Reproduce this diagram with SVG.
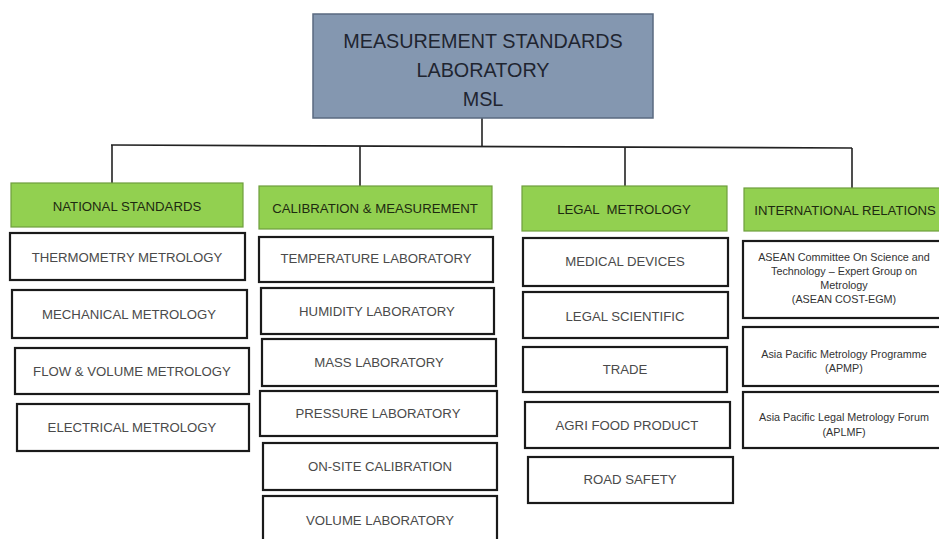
<svg xmlns="http://www.w3.org/2000/svg" width="939" height="539" viewBox="0 0 939 539">
<style>
.top{fill:#8497b0;stroke:#5a6a80;stroke-width:1.5}
.hdr{fill:#92d050;stroke:#6e9e3c;stroke-width:1.2}
.box{fill:#ffffff;stroke:#1a1a1a;stroke-width:2.2}
.t{font-family:"Liberation Sans",Arial,sans-serif;text-anchor:middle;dominant-baseline:central}
.tt{font-size:19.8px;fill:#1f2530}
.ht{font-size:13.2px;fill:#1e2a10;white-space:pre}
.bt{font-size:13.2px;fill:#4a4a4a}
.st{font-size:10.8px;fill:#333333}
.c{fill:none;stroke:#222222;stroke-width:1.6}
</style>
<rect width="939" height="539" fill="#ffffff"/>
<g id="connectors">
<line class="c" x1="482" y1="118" x2="482" y2="147"/>
<line class="c" x1="111" y1="145" x2="852" y2="148"/>
<line class="c" x1="112" y1="145" x2="112" y2="184"/>
<line class="c" x1="360" y1="146" x2="360" y2="187"/>
<line class="c" x1="625" y1="147" x2="625" y2="186"/>
<line class="c" x1="852" y1="148" x2="852" y2="188"/>
</g>
<g id="msl">
<rect class="top" x="313" y="14" width="340" height="104"/>
<text class="t tt" x="483" y="41">MEASUREMENT STANDARDS</text>
<text class="t tt" x="483" y="70">LABORATORY</text>
<text class="t tt" x="483" y="99">MSL</text>
</g>
<g id="national">
<rect class="hdr" x="11" y="183" width="232" height="44"/>
<text class="t ht" x="127" y="206">NATIONAL STANDARDS</text>
</g>
<g id="calibration">
<rect class="hdr" x="259" y="186" width="233" height="43"/>
<text class="t ht" x="375" y="208">CALIBRATION &amp; MEASUREMENT</text>
</g>
<g id="legal">
<rect class="hdr" x="522" y="186" width="205" height="45"/>
<text class="t ht" x="624" y="209" xml:space="preserve">LEGAL  METROLOGY</text>
</g>
<g id="international">
<rect class="hdr" x="744" y="188" width="200" height="43"/>
<text class="t ht" x="845" y="210">INTERNATIONAL RELATIONS</text>
</g>
<g id="thermometry"><rect class="box" x="10" y="233" width="235" height="47"/><text class="t bt" x="127" y="257">THERMOMETRY METROLOGY</text></g>
<g id="mechanical"><rect class="box" x="12" y="290" width="235" height="48"/><text class="t bt" x="129" y="314">MECHANICAL METROLOGY</text></g>
<g id="flow"><rect class="box" x="15" y="348" width="234" height="46"/><text class="t bt" x="132" y="371">FLOW &amp; VOLUME METROLOGY</text></g>
<g id="electrical"><rect class="box" x="17" y="404" width="232" height="47"/><text class="t bt" x="132" y="427">ELECTRICAL METROLOGY</text></g>
<g id="temperature"><rect class="box" x="259" y="237" width="234" height="45"/><text class="t bt" x="376" y="258">TEMPERATURE LABORATORY</text></g>
<g id="humidity"><rect class="box" x="261" y="288" width="233" height="46"/><text class="t bt" x="377" y="311">HUMIDITY LABORATORY</text></g>
<g id="mass"><rect class="box" x="262" y="339" width="234" height="47"/><text class="t bt" x="379" y="362">MASS LABORATORY</text></g>
<g id="pressure"><rect class="box" x="260" y="391" width="237" height="45"/><text class="t bt" x="378" y="413">PRESSURE LABORATORY</text></g>
<g id="onsite"><rect class="box" x="263" y="443" width="234" height="47"/><text class="t bt" x="380" y="466">ON-SITE CALIBRATION</text></g>
<g id="volume"><rect class="box" x="263" y="496" width="234" height="50"/><text class="t bt" x="380" y="520">VOLUME LABORATORY</text></g>
<g id="medical"><rect class="box" x="523" y="238" width="205" height="48"/><text class="t bt" x="625" y="261">MEDICAL DEVICES</text></g>
<g id="legalsci"><rect class="box" x="523" y="292" width="205" height="46"/><text class="t bt" x="625" y="316">LEGAL SCIENTIFIC</text></g>
<g id="trade"><rect class="box" x="523" y="347" width="204" height="45"/><text class="t bt" x="625" y="369">TRADE</text></g>
<g id="agri"><rect class="box" x="525" y="402" width="205" height="46"/><text class="t bt" x="627" y="425">AGRI FOOD PRODUCT</text></g>
<g id="road"><rect class="box" x="528" y="457" width="205" height="46"/><text class="t bt" x="630" y="479">ROAD SAFETY</text></g>
<g id="asean"><rect class="box" x="743" y="241" width="200" height="77"/>
<text class="t st" x="844" y="257">ASEAN Committee On Science and</text>
<text class="t st" x="844" y="271">Technology – Expert Group on</text>
<text class="t st" x="844" y="285">Metrology</text>
<text class="t st" x="844" y="299">(ASEAN COST-EGM)</text></g>
<g id="apmp"><rect class="box" x="743" y="327" width="200" height="59"/>
<text class="t st" x="844" y="354">Asia Pacific Metrology Programme</text>
<text class="t st" x="844" y="368">(APMP)</text></g>
<g id="aplmf"><rect class="box" x="743" y="392" width="200" height="56"/>
<text class="t st" x="844" y="417">Asia Pacific Legal Metrology Forum</text>
<text class="t st" x="844" y="432">(APLMF)</text></g>
</svg>
